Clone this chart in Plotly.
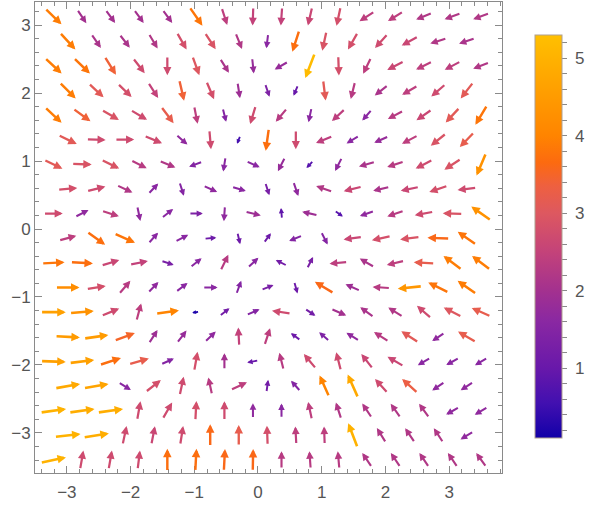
import numpy as np
import plotly.graph_objects as go
from plotly.colors import sample_colorscale

# ---------------- data ----------------
# Arrow grid: 19 rows (top to bottom); even rows have 16 points, odd rows 15 (staggered grid)
row_y = [3.13 - 0.3628 * k for k in range(19)]
x_even = [-3.215 + 0.448 * j for j in range(16)]
x_odd = [-2.99 + 0.448 * j for j in range(15)]

# direction of each arrow (degrees, counter-clockwise from +x) per row
angle_rows = [
    [-44, -56, -54, -54, -54, -55, -72, -92, -94, -103, -102, -147, -148, -158, -160, -160],
    [-47, -55, -52, -59, -60, -57, -68, -97, -108, -102, -120, -132, -151, -162, -161],
    [-43, -44, -58, -52, -90, -70, -58, -84, -150, -111, -88, -116, -153, -154, -152, -159],
    [-45, -43, -44, -57, -77, -67, -81, -71, -113, -83, -104, -142, -150, -139, -128],
    [-43, -36, -30, -31, -53, -79, -76, -107, -130, -102, -137, -131, -152, -145, -133, -121],
    [-26, -2, 0, -22, -41, -85, -112, -98, -90, -157, -149, -156, -152, -141, -134],
    [-26, -2, -26, -27, -22, -160, -99, -24, -117, -133, -117, -164, -162, -153, -147, -113],
    [5, 14, -25, 47, -72, -24, -17, -72, -71, 161, -166, -167, -168, -161, -173],
    [0, 27, -18, -78, 38, 0, -94, -14, 95, 167, -35, -161, -161, -169, 178, 145],
    [15, -36, -24, 48, 27, 5, -77, 54, -158, -63, -172, -168, -173, 178, 145],
    [3, -3, 17, 11, -18, 39, 64, 43, 153, 63, -175, 150, -167, 177, 143, 143],
    [0, 9, 49, 46, 37, 0, 70, 22, -74, 149, 156, 176, -174, 154, 145],
    [0, 5, 22, 75, 8, -170, 38, 23, 171, -34, -23, 144, 148, 139, 153, 156],
    [-3, 8, 20, 57, 52, 43, 93, 72, 144, 139, 148, 147, 147, -146, 150],
    [-2, 7, 18, 16, 24, 80, 90, -169, 104, 130, 104, 128, 150, -150, -151, -149],
    [10, 10, -32, 38, 78, 102, 25, 82, 132, 114, 114, 132, 138, -146, -147],
    [8, 8, 8, 80, 60, 87, 90, 90, 90, 102, 108, 124, 125, 126, -150, -149],
    [6, 9, 78, 79, 81, 90, 90, 92, 93, 92, 111, 122, 124, 123, -149],
    [12, 80, 80, 83, 90, 87, 87, 89, 90, 94, 95, 124, 124, 124, 124, 126],
]

# magnitude of each arrow per row
magnitude_rows = [
    [3.9, 2.0, 2.0, 2.0, 2.0, 3.8, 2.4, 2.5, 2.5, 2.6, 2.8, 2.4, 2.4, 2.2, 2.2, 2.2],
    [3.9, 2.1, 2.1, 2.2, 2.8, 2.9, 2.2, 1.6, 3.7, 2.9, 2.8, 2.7, 2.6, 2.2, 2.1],
    [3.9, 3.8, 3.4, 2.7, 2.7, 3.0, 2.1, 1.8, 1.8, 5.2, 2.8, 2.4, 2.6, 2.4, 2.4, 2.2],
    [3.9, 3.1, 2.8, 2.5, 3.4, 2.8, 1.9, 1.4, 1.0, 3.1, 2.3, 2.1, 2.4, 2.7, 3.1],
    [3.9, 3.4, 2.9, 2.7, 3.2, 2.4, 1.5, 2.7, 2.3, 1.6, 2.4, 1.6, 2.3, 2.6, 3.1, 3.8],
    [3.1, 2.7, 2.7, 2.7, 1.7, 2.7, 0.6, 3.7, 2.7, 2.4, 1.6, 1.8, 2.4, 2.9, 3.2],
    [3.1, 2.9, 2.9, 2.3, 2.2, 1.5, 1.6, 1.6, 1.8, 0.8, 1.7, 2.1, 2.3, 2.7, 2.9, 4.3],
    [2.8, 2.7, 2.2, 1.6, 1.5, 1.7, 1.6, 1.3, 1.7, 2.2, 2.6, 2.1, 2.6, 2.8, 2.7],
    [2.7, 1.7, 2.4, 1.7, 1.6, 1.4, 1.7, 1.9, 0.9, 1.9, 0.8, 1.7, 2.3, 2.7, 2.9, 4.3],
    [2.4, 3.7, 3.8, 1.6, 1.6, 1.1, 1.1, 1.1, 1.5, 1.5, 2.6, 2.8, 2.9, 3.6, 3.8],
    [3.8, 3.7, 2.6, 2.5, 1.3, 1.6, 2.3, 1.6, 1.2, 1.3, 2.4, 2.1, 2.4, 3.2, 3.9, 3.9],
    [4.2, 2.8, 2.3, 1.7, 1.6, 1.6, 1.5, 1.3, 1.1, 3.6, 1.9, 2.3, 4.4, 3.8, 3.9],
    [4.6, 4.3, 2.7, 2.4, 4.0, 0.2, 1.2, 1.5, 2.7, 1.2, 2.0, 2.1, 2.2, 2.7, 3.0, 3.2],
    [4.5, 4.5, 3.5, 1.9, 1.8, 1.7, 2.5, 2.4, 1.1, 1.4, 1.7, 2.3, 3.1, 1.7, 3.2],
    [4.6, 4.6, 3.7, 3.2, 1.5, 2.8, 2.0, 1.0, 2.3, 2.7, 2.7, 2.6, 2.6, 1.6, 1.6, 1.6],
    [4.8, 4.7, 1.6, 2.8, 2.7, 2.3, 2.4, 1.2, 1.5, 4.0, 4.8, 2.7, 3.3, 1.7, 1.7],
    [5.0, 4.9, 4.9, 2.7, 2.7, 2.8, 2.7, 1.7, 1.6, 2.4, 2.2, 2.2, 2.2, 2.2, 1.7, 1.7],
    [5.0, 4.9, 2.7, 2.6, 2.7, 3.6, 3.2, 2.8, 2.4, 2.4, 5.0, 2.2, 2.2, 2.2, 1.7],
    [5.0, 2.7, 2.7, 2.7, 3.7, 3.7, 3.6, 3.6, 2.3, 2.3, 2.3, 2.2, 2.2, 2.2, 2.2, 2.2],
]

x_ticks = [-3, -2, -1, 0, 1, 2, 3]
y_ticks = [-3, -2, -1, 0, 1, 2, 3]
bar_ticks = [1, 2, 3, 4, 5]
CMIN, CMAX = 0.1, 5.3

# ---------------- style ----------------
colorscale = [
    [0.000, "#1200a8"],
    [0.087, "#4210b0"],
    [0.173, "#6818aa"],
    [0.290, "#8a28a2"],
    [0.365, "#a3318f"],
    [0.460, "#c3427a"],
    [0.558, "#dd5860"],
    [0.625, "#ee6040"],
    [0.683, "#fc6a10"],
    [0.750, "#ff8400"],
    [0.942, "#ffb200"],
    [1.000, "#ffc000"],
]

W, H = 600, 505
ML, MR, MT, MB = 35, 98, 2, 32
XR = [-3.5, 3.83]
YR = [-3.59, 3.34]
PW, PH = W - ML - MR, H - MT - MB
sx = PW / (XR[1] - XR[0])   # px per x unit
sy = PH / (YR[1] - YR[0])   # px per y unit

FONT = "Liberation Sans, Arial, sans-serif"
TICKCOL = "#8a8a8a"
LABCOL = "#555555"


def arrow_len_px(m):
    return max(7.5, 27.0 * np.sqrt(m / 5.3))


annotations = []
for k, (angs, mags) in enumerate(zip(angle_rows, magnitude_rows)):
    xs = x_even if k % 2 == 0 else x_odd
    cy = row_y[k]
    for cx, a, m in zip(xs, angs, mags):
        L = arrow_len_px(m)
        t = np.deg2rad(a)
        dx = 0.5 * L * np.cos(t) / sx
        dy = 0.5 * L * np.sin(t) / sy
        col = sample_colorscale(colorscale, [(m - CMIN) / (CMAX - CMIN)])[0]
        aw = min(2.6, 1.7 + 0.2 * m)
        head = min(8.5, 0.36 * L + 1.2)
        annotations.append(dict(
            x=cx + dx, y=cy + dy, ax=cx - dx, ay=cy - dy,
            xref="x", yref="y", axref="x", ayref="y",
            text="", showarrow=True, arrowhead=2,
            arrowwidth=aw, arrowsize=max(0.3, head / (5.0 * aw)),
            arrowcolor=col, standoff=0, startstandoff=0,
        ))

bar_vals = [round(0.2 * i, 1) for i in range(1, 27)]
bar_text = [" " + str(int(round(v))) if abs(v - round(v)) < 1e-6 and round(v) in bar_ticks else "" for v in bar_vals]

fig = go.Figure()
# invisible trace that only carries the colour bar
fig.add_trace(go.Scatter(
    x=[0, 0], y=[0, 0], mode="markers", hoverinfo="skip", showlegend=False,
    marker=dict(
        size=0.1, opacity=0, color=[CMIN, CMAX], colorscale=colorscale,
        cmin=CMIN, cmax=CMAX, showscale=True,
        colorbar=dict(
            x=(535 - ML) / PW, xanchor="left",
            y=(H - MB - 236.5) / PH, yanchor="middle",
            len=403, lenmode="pixels", thickness=27, thicknessmode="pixels",
            outlinewidth=1, outlinecolor="#b0a090",
            xpad=0, ypad=0,
            ticks="outside", ticklen=5, tickcolor=TICKCOL, tickwidth=1,
            tickvals=bar_vals, ticktext=bar_text,
            tickfont=dict(family=FONT, size=17, color=LABCOL),
        ),
    ),
))

axis_common = dict(
    showgrid=False, zeroline=False, showline=True, linecolor=TICKCOL, linewidth=1,
    mirror="ticks", ticks="inside", ticklen=7, tickcolor=TICKCOL, tickwidth=1,
    minor=dict(tick0=0, dtick=0.2, ticks="inside", ticklen=4, tickcolor=TICKCOL, tickwidth=1),
    tickfont=dict(family=FONT, size=17, color=LABCOL),
    fixedrange=True,
)

fig.update_layout(
    width=W, height=H,
    margin=dict(l=ML, r=MR, t=MT, b=MB, pad=0),
    paper_bgcolor="white", plot_bgcolor="white",
    xaxis=dict(range=XR, tickvals=x_ticks, ticklabelstandoff=4, **axis_common),
    yaxis=dict(range=YR, tickvals=y_ticks, **axis_common),
    annotations=annotations,
    showlegend=False,
)

fig.write_html("out.html")
